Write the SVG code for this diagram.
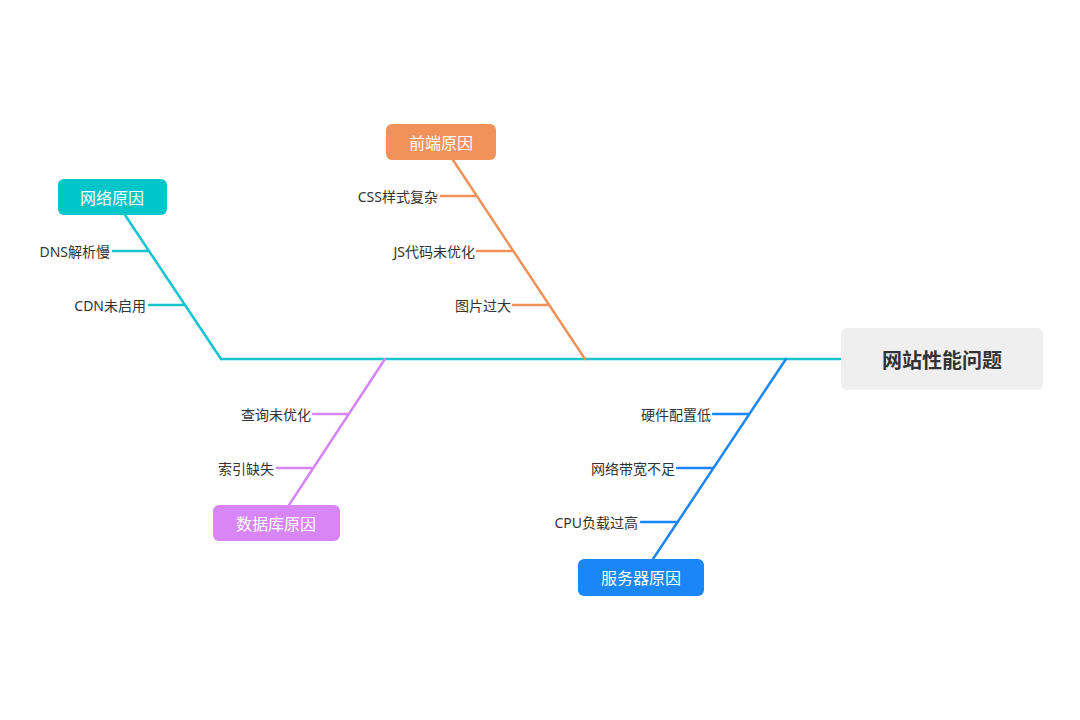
<svg xmlns="http://www.w3.org/2000/svg" width="1080" height="720" viewBox="0 0 1080 720">
<style>
.l{font-family:"Noto Sans","Noto Sans CJK SC",sans-serif;font-size:14px;fill:#333;text-anchor:end;dominant-baseline:central}
.b{font-family:"Noto Sans","Noto Sans CJK SC",sans-serif;font-size:16px;fill:#fff;text-anchor:middle;dominant-baseline:central}
.s{fill:none;stroke-width:2.5;stroke-linecap:round}
</style>
<rect width="1080" height="720" fill="#fff"/>
<g id="connectors">
<line class="s" stroke="#14c6cc" x1="221" y1="359" x2="840" y2="359"/>
<path class="s" stroke="#14c6cc" d="M125 215L221 359M113 251H149M149 305H185"/>
<path class="s" stroke="#f0925a" d="M453 160L585 359M441 196H477M477 251H513M513 305H549"/>
<path class="s" stroke="#d785f7" d="M385 359L289 505M313 414H349M277 468H313"/>
<path class="s" stroke="#1b86f5" d="M786 359L653 559M713 414H749M677 468H713M641 522H678"/>
</g>
<g id="head"><rect x="841" y="328" width="202" height="62" rx="6" fill="#efefef"/><text x="942" y="360" font-family="Noto Sans,Noto Sans CJK SC,sans-serif" font-size="20" font-weight="bold" fill="#333" text-anchor="middle" dominant-baseline="central">网站性能问题</text></g>
<g id="network"><rect x="58" y="179" width="109" height="36" rx="6" fill="#00c6c9"/><text class="b" x="112" y="198">网络原因</text>
<text class="l" x="110" y="251">DNS解析慢</text><text class="l" x="146" y="305">CDN未启用</text></g>
<g id="frontend"><rect x="386" y="124" width="110" height="36" rx="6" fill="#f0925a"/><text class="b" x="441" y="143">前端原因</text>
<text class="l" x="438" y="196">CSS样式复杂</text><text class="l" x="475" y="251">JS代码未优化</text><text class="l" x="511" y="305">图片过大</text></g>
<g id="database"><rect x="213" y="505" width="127" height="36" rx="6" fill="#d785f7"/><text class="b" x="276" y="524">数据库原因</text>
<text class="l" x="311" y="414">查询未优化</text><text class="l" x="274" y="468">索引缺失</text></g>
<g id="server"><rect x="578" y="559" width="126" height="37" rx="6" fill="#1b86f5"/><text class="b" x="641" y="578">服务器原因</text>
<text class="l" x="711" y="414">硬件配置低</text><text class="l" x="675" y="468">网络带宽不足</text><text class="l" x="638" y="522">CPU负载过高</text></g>
</svg>
